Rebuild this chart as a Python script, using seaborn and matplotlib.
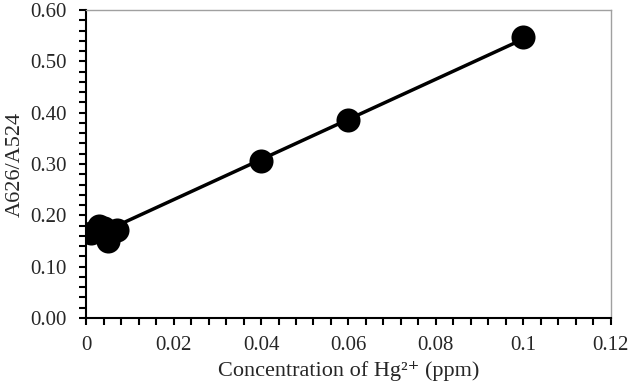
import seaborn as sns
import matplotlib.pyplot as plt
import pandas as pd
from matplotlib.ticker import MultipleLocator

# Hg2+ calibration data
conc = [0.001, 0.003, 0.004, 0.005, 0.007, 0.04, 0.06, 0.1]
ratio = [0.165, 0.18, 0.175, 0.15, 0.172, 0.305, 0.385, 0.547]

xticks = [0, 0.02, 0.04, 0.06, 0.08, 0.1, 0.12]
xticklabels = ["0", "0.02", "0.04", "0.06", "0.08", "0.1", "0.12"]
yticks = [0, 0.1, 0.2, 0.3, 0.4, 0.5, 0.6]
yticklabels = ["0.00", "0.10", "0.20", "0.30", "0.40", "0.50", "0.60"]

df = pd.DataFrame({"conc": conc, "ratio": ratio})

sns.set_style("white")
plt.rcParams['font.family'] = ['Liberation Serif', 'DejaVu Serif']

fig, ax = plt.subplots(figsize=(6.29, 3.85), dpi=100)

sns.regplot(data=df, x="conc", y="ratio", ci=None, ax=ax,
            scatter_kws={"s": 300, "color": "black", "alpha": 1, "linewidths": 0},
            line_kws={"color": "black", "lw": 2.5})

ax.set_xlim(0, 0.12)
ax.set_ylim(0, 0.6)
ax.xaxis.set_minor_locator(MultipleLocator(0.004))
ax.yaxis.set_minor_locator(MultipleLocator(0.02))
ax.set_xticks(xticks)
ax.set_xticklabels(xticklabels)
ax.set_yticks(yticks)
ax.set_yticklabels(yticklabels)

ax.tick_params(which="both", direction="out", color="black", width=1.5,
               labelsize=15, bottom=True, left=True)
ax.tick_params(which="major", length=5)
ax.tick_params(axis="x", which="major", pad=8)
ax.tick_params(axis="y", which="major", pad=9)
ax.tick_params(which="minor", length=5)

for s in ["left", "bottom"]:
    ax.spines[s].set_color("black")
    ax.spines[s].set_linewidth(1.5)
for s in ["top", "right"]:
    ax.spines[s].set_color("#a0a0a0")
    ax.spines[s].set_linewidth(1)

ax.set_xlabel("Concentration of Hg²⁺ (ppm)", fontsize=16, labelpad=4)
ax.set_ylabel("A626/A524", fontsize=16, labelpad=4)

plt.subplots_adjust(left=0.137, right=0.971, top=0.974, bottom=0.174)
plt.savefig("out.png", dpi=100)
